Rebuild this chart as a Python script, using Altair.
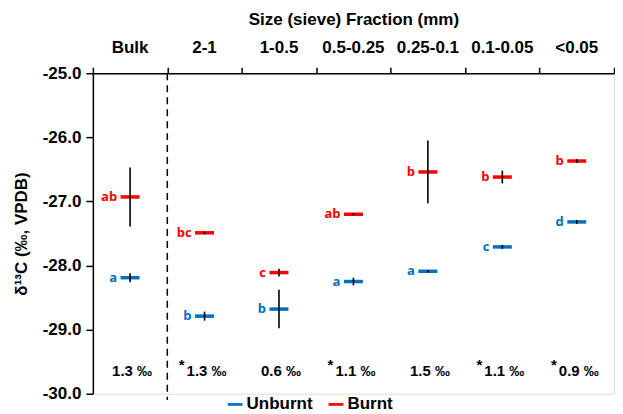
import altair as alt
import pandas as pd

categories = ["Bulk", "2-1", "1-0.5", "0.5-0.25", "0.25-0.1", "0.1-0.05", "<0.05"]
unburnt_mean = [-28.19, -28.79, -28.68, -28.25, -28.09, -27.71, -27.32]
unburnt_err = [0.07, 0.07, 0.30, 0.06, 0.02, 0.03, 0.03]
unburnt_letters = ["a", "b", "b", "a", "a", "c", "d"]
burnt_mean = [-26.93, -27.49, -28.11, -27.20, -26.54, -26.62, -26.37]
burnt_err = [0.46, 0.02, 0.06, 0.02, 0.49, 0.10, 0.03]
burnt_letters = ["ab", "bc", "c", "ab", "b", "b", "b"]
diff_labels = ["1.3 ‰", "1.3 ‰", "0.6 ‰", "1.1 ‰", "1.5 ‰", "1.1 ‰", "0.9 ‰"]
significant = [False, True, False, True, False, True, True]

BLUE = "#0070C0"
RED = "#FF0000"
FONT = "Liberation Sans"

rows = []
for i, c in enumerate(categories):
    rows.append(dict(cat=c, pos=i + 0.5, series="Unburnt", mean=unburnt_mean[i],
                     lo=unburnt_mean[i] - unburnt_err[i], hi=unburnt_mean[i] + unburnt_err[i],
                     letter=unburnt_letters[i]))
    rows.append(dict(cat=c, pos=i + 0.5, series="Burnt", mean=burnt_mean[i],
                     lo=burnt_mean[i] - burnt_err[i], hi=burnt_mean[i] + burnt_err[i],
                     letter=burnt_letters[i]))
df = pd.DataFrame(rows)

cat_df = pd.DataFrame(dict(cat=categories, pos=[i + 0.5 for i in range(len(categories))],
                           diff=diff_labels, sig=significant,
                           ytop=[-24.61] * 7, ydiff=[-29.65] * 7, yast=[-29.56] * 7))
ast_df = cat_df[cat_df["sig"]]

xscale = alt.Scale(domain=[0, 7], nice=False, zero=False)
yscale = alt.Scale(domain=[-30, -25], nice=False, zero=False)
color_scale = alt.Scale(domain=["Unburnt", "Burnt"], range=[BLUE, RED])

base = alt.Chart(df)

ticks = base.mark_tick(orient="horizontal", thickness=3.5, size=19, opacity=1).encode(
    x=alt.X("pos:Q", scale=xscale,
            axis=alt.Axis(orient="top", values=list(range(8)), labels=False, grid=False,
                          tickSize=6, tickColor="black", domainColor="black",
                          domainWidth=1.5, tickWidth=1.5,
                          title="Size (sieve) Fraction (mm)", titleFontSize=17,
                          titleFontWeight="bold", titlePadding=38, titleFont=FONT,
                          titleColor="black")),
    y=alt.Y("mean:Q", scale=yscale,
            axis=alt.Axis(values=[-30, -29, -28, -27, -26, -25],
                          labelExpr="replace(format(datum.value, '.1f'), '\u2212', '-')",
                          grid=False,
                          tickSize=7, tickColor="black", domainColor="black",
                          domainWidth=1.5, tickWidth=1.5,
                          labelFontSize=17, labelFontWeight="bold", labelFont=FONT,
                          labelColor="black", labelPadding=5,
                          title="δ¹³C (‰, VPDB)", titleFontSize=17, titleFontWeight="bold",
                          titleFont=FONT, titlePadding=12, titleColor="black")),
    color=alt.Color("series:N", scale=color_scale,
                    legend=alt.Legend(title=None, orient="none", direction="horizontal",
                                      legendX=134, legendY=323, padding=0,
                                      symbolType="M-1,-0.18H1V0.18H-1Z", symbolSize=220,
                                      labelFontSize=17, labelFontWeight="bold", labelFont=FONT,
                                      labelColor="black", columnPadding=14, symbolOffset=0,
                                      labelOffset=3)),
)

errbars = base.mark_rule(color="black", strokeWidth=1.6).encode(
    x="pos:Q", y="lo:Q", y2="hi:Q")

letters = base.mark_text(align="right", baseline="middle", dx=-13, fontSize=13,
                         fontWeight="bold", font="Open Sans").encode(
    x="pos:Q", y="mean:Q", text="letter:N",
    color=alt.Color("series:N", scale=color_scale, legend=None))

cat_labels = alt.Chart(cat_df).mark_text(fontSize=17, fontWeight="bold", font=FONT,
                                         baseline="middle").encode(
    x="pos:Q", y="ytop:Q", text="cat:N")

diff_text = alt.Chart(cat_df).mark_text(fontSize=15, fontWeight="bold", font=FONT,
                                        baseline="middle", dx=2).encode(
    x="pos:Q", y="ydiff:Q", text="diff:N")

ast_text = alt.Chart(ast_df).mark_text(fontSize=15, fontWeight="bold", font=FONT,
                                       baseline="middle", dx=-23).encode(
    x="pos:Q", y="yast:Q", text=alt.value("*"))

divider = alt.Chart(pd.DataFrame(dict(x=[1.0], y=[-25.0], y2=[-30.1]))).mark_rule(
    color="black", strokeWidth=1.5, strokeDash=[7, 5]).encode(
    x="x:Q", y="y:Q", y2="y2:Q")

chart = alt.layer(divider, ticks, errbars, letters, cat_labels, diff_text, ast_text).properties(
    width=522, height=321,
    padding={"left": 4, "top": 2, "right": 0, "bottom": 0},
).configure_view(stroke=None).configure(font=FONT)

chart.save("out.html", embed_options={"renderer": "svg", "actions": False})
